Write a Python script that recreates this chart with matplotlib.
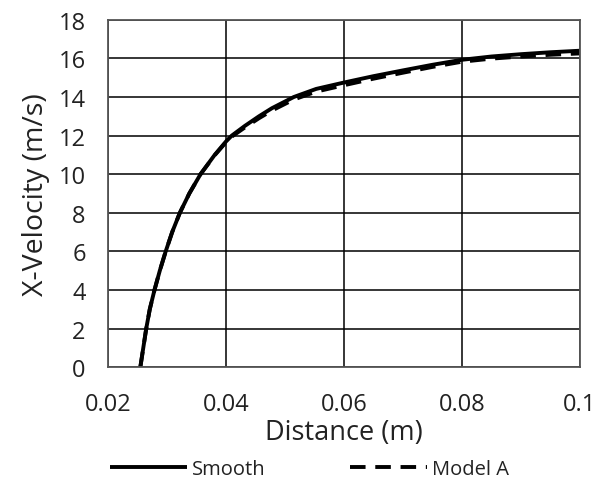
import matplotlib
matplotlib.use("Agg")
import matplotlib.pyplot as plt

smooth_x = [0.0255, 0.0260, 0.0265, 0.0271, 0.0279, 0.0288, 0.0298, 0.0309, 0.0322, 0.0338,
            0.0357, 0.0381, 0.0400, 0.0410, 0.0432, 0.0456, 0.0478, 0.0515, 0.0553, 0.060,
            0.065, 0.070, 0.075, 0.080, 0.085, 0.090, 0.095, 0.100]
smooth_y = [0.0, 1.0, 2.0, 3.0, 4.0, 5.0, 6.0, 7.0, 8.0, 9.0,
            10.0, 11.0, 11.69, 12.0, 12.5, 13.0, 13.42, 14.0, 14.42, 14.75,
            15.08, 15.38, 15.67, 15.93, 16.1, 16.22, 16.32, 16.4]
model_x = [0.0255, 0.0260, 0.0265, 0.0271, 0.0279, 0.0288, 0.0298, 0.0309, 0.0322, 0.0338,
           0.0357, 0.0381, 0.0400, 0.0410, 0.0432, 0.0456, 0.0478, 0.0515, 0.0553, 0.060,
           0.065, 0.070, 0.075, 0.080, 0.085, 0.090, 0.095, 0.100]
model_y = [0.0, 1.0, 2.0, 3.0, 4.0, 5.0, 6.0, 7.0, 8.0, 9.0,
           10.0, 10.98, 11.65, 11.95, 12.42, 12.9, 13.3, 13.87, 14.28, 14.61,
           14.95, 15.26, 15.56, 15.83, 15.99, 16.1, 16.19, 16.26]

x_ticks = [0.02, 0.04, 0.06, 0.08, 0.1]
x_tick_labels = ["0.02", "0.04", "0.06", "0.08", "0.1"]
y_ticks = [0, 2, 4, 6, 8, 10, 12, 14, 16, 18]

plt.rcParams['font.family'] = ['Open Sans', 'DejaVu Sans']

fig = plt.figure(figsize=(6.13, 4.85), dpi=100)
ax = fig.add_axes([0.176, 0.241, 0.770, 0.716])

ax.plot(smooth_x, smooth_y, color='black', lw=2.8, label='Smooth', solid_capstyle='butt')
ax.plot(model_x, model_y, color='black', lw=2.8, dashes=(4, 2.5), label='Model A')

ax.set_xlim(0.02, 0.1)
ax.set_ylim(0, 18)
ax.set_xticks(x_ticks)
ax.set_xticklabels(x_tick_labels)
ax.set_yticks(y_ticks)
ax.tick_params(axis='both', length=0, labelsize=17, colors='#222222')
ax.tick_params(axis='x', pad=18)
ax.tick_params(axis='y', pad=16)
ax.grid(True, color='black', lw=1.1)
for s in ax.spines.values():
    s.set_color('#555555')
    s.set_linewidth(1.3)
ax.set_axisbelow(True)

ax.set_xlabel('Distance (m)', fontsize=19.5, labelpad=1, color='#222222')
ax.set_ylabel('X-Velocity (m/s)', fontsize=20.5, labelpad=6, color='#222222')

fig.legend(loc='lower center', bbox_to_anchor=(0.505, -0.028), ncol=2, frameon=False,
           fontsize=14.5, handlelength=3.8, columnspacing=4.2, handletextpad=0.25,
           labelcolor='#222222')

fig.savefig('out.png', dpi=100)
